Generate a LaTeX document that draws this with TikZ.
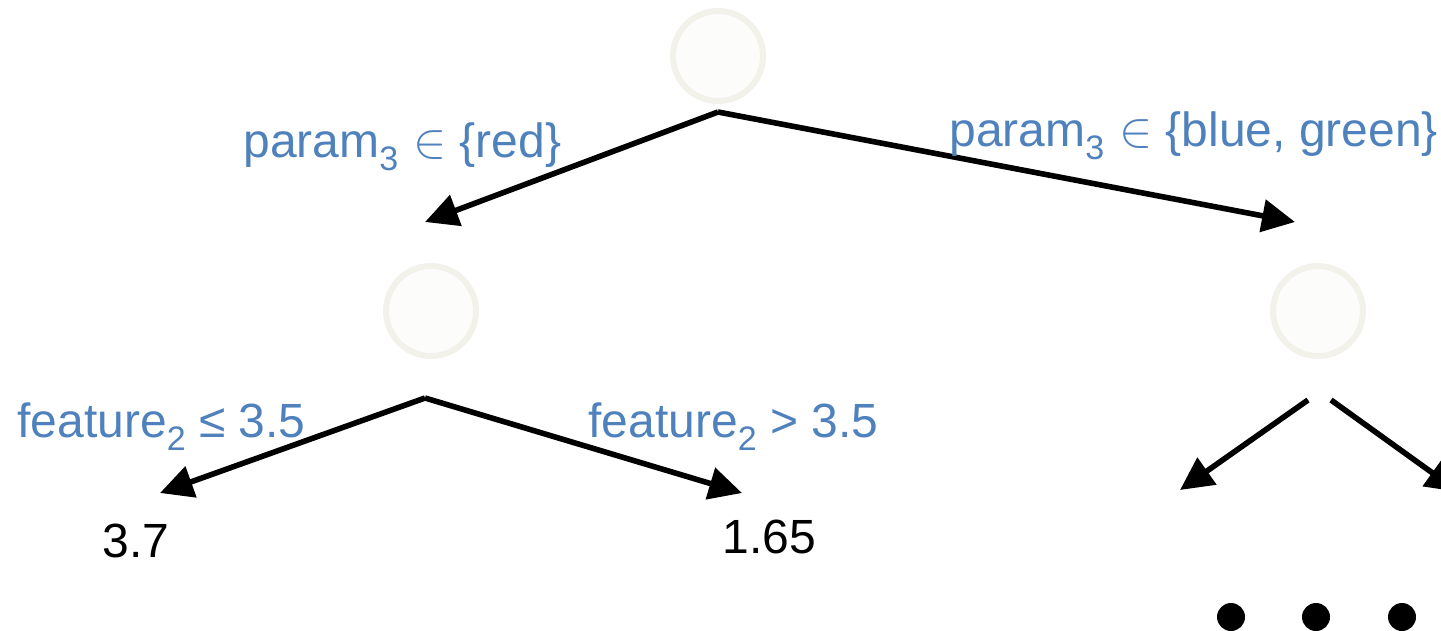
\documentclass[tikz,border=0pt]{standalone}
\usepackage{fontspec}
\setmainfont{Liberation Sans}
\usetikzlibrary{arrows.meta}
\definecolor{lblblue}{RGB}{79,129,189}
\definecolor{circfill}{RGB}{252,252,250}
\definecolor{circdraw}{RGB}{242,241,234}
\newcommand{\sbs}[1]{\raisebox{-6.5pt}{\fontsize{17}{17}\selectfont #1}}
\newcommand{\inrel}{\hspace{0.8pt}$\in$}
\tikzset{
  treenode/.style={circle, fill=circfill, draw=circdraw, line width=3pt, minimum size=45pt, inner sep=0pt},
  arr/.style={line width=2.8pt, -{Triangle[length=16.5pt, width=16pt]}},
  lbl/.style={text=lblblue, anchor=base west, inner sep=0pt, font=\fontsize{24}{28}\selectfont},
  val/.style={text=black, anchor=base west, inner sep=0pt, font=\fontsize{24}{28}\selectfont},
  dotnode/.style={circle, fill=black, minimum size=14pt, inner sep=0pt}
}
\begin{document}
\begin{tikzpicture}[x=0.5pt, y=-0.5pt]
\useasboundingbox (0,0) rectangle (1441,631);
\clip (0,0) rectangle (1441,631);
% nodes
\node[treenode] (root) at (718,56) {};
\node[treenode] (left) at (431,311) {};
\node[treenode] (right) at (1318,311) {};
% connector endpoints
\coordinate (rootout) at (718,112);
\coordinate (lefttip) at (425,222);
\coordinate (righttip) at (1295,222);
\coordinate (leftout) at (425,398);
\coordinate (llbtip) at (160,493);
\coordinate (lrbtip) at (742,493);
\coordinate (rlstart) at (1308,400);
\coordinate (rltip) at (1180,490);
\coordinate (rrstart) at (1331,400);
\coordinate (rrtip) at (1459,492);
% connectors
\draw[arr] (rootout) -- (lefttip);
\draw[arr] (rootout) -- (righttip);
\draw[arr] (leftout) -- (llbtip);
\draw[arr] (leftout) -- (lrbtip);
\draw[arr] (rlstart) -- (rltip);
\draw[arr] (rrstart) -- (rrtip);
% labels
\node[lbl] (l1) at (243,157) {param\sbs{3} \inrel{} \{red\}};
\node[lbl] (l2) at (949,147) {param\sbs{3} \inrel{} \{blue, green\}};
\node[lbl] (l3) at (17,437) {feature\sbs{2} ≤ 3.5};
\node[lbl] (l4) at (588,437) {feature\sbs{2} > 3.5};
\node[val] (v1) at (102,557) {3.7};
\node[val] (v2) at (722,553) {1.65};
% dots
\node[dotnode] (d1) at (1231,617) {};
\node[dotnode] (d2) at (1316,617) {};
\node[dotnode] (d3) at (1402,617) {};
\end{tikzpicture}
\end{document}
